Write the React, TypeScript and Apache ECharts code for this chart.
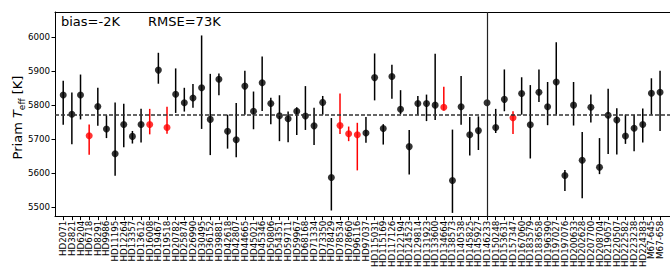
import React, { useEffect, useRef } from "react";
import * as echarts from "echarts";

const categories = [
  "HD2071","HD3821","HD6204","HD6718","HD8291","HD9986","HD11195","HD12264","HD13357","HD13612",
  "HD16008","HD19467","HD19518","HD20782","HD25874","HD26990","HD30495","HD36152","HD39881","HD42618",
  "HD42807","HD44665","HD45021","HD45346","HD50806","HD54351","HD59711","HD59967","HD68168","HD71334",
  "HD73350","HD78429","HD78534","HD78660","HD96116","HD97037","HD115031","HD115169","HD117126","HD122194",
  "HD124523","HD129814","HD131923","HD133600","HD134664","HD138573","HD140538","HD145825","HD145927","HD146233",
  "HD150248","HD153631","HD157347","HD167060","HD183579","HD183658","HD196390","HD197027","HD197076","HD200633",
  "HD202628","HD207700","HD208704","HD219057","HD220507","HD222582","HD223238","HD224383","M67-645","M67-658",
];

const teff = [
  5830,5773,5830,5710,5796,5730,5657,5743,5708,5743,
  5743,5903,5734,5832,5807,5821,5851,5758,5876,5723,
  5698,5856,5782,5866,5805,5769,5760,5782,5768,5739,
  5808,5587,5740,5716,5713,5718,5881,5731,5884,5788,
  5678,5805,5805,5800,5794,5578,5795,5713,5725,5807,
  5734,5817,5763,5834,5742,5838,5795,5868,5593,5800,
  5638,5794,5617,5770,5756,5709,5732,5743,5835,5838,
];

const upper = [
  5872,5837,5890,5743,5851,5770,5808,5804,5724,5789,
  5789,5954,5795,5908,5851,5862,6005,5892,5893,5772,
  5806,5901,5840,5943,5822,5829,5781,5794,5856,5792,
  5827,5762,5834,5737,5748,5765,5952,5744,5919,5844,
  5727,5827,5831,5951,5854,5728,5886,5765,5767,5807,
  5789,5905,5782,5882,5859,5905,5868,5985,5609,5868,
  5721,5831,5703,5848,5791,5772,5772,5790,5879,5901,
];

const lower = [
  5742,5685,5758,5654,5739,5703,5592,5676,5687,5690,
  5714,5863,5716,5777,5781,5792,5730,5653,5829,5672,
  5647,5772,5729,5783,5744,5694,5691,5712,5727,5683,
  5772,5490,5715,5694,5608,5689,5814,5684,5819,5773,
  5596,5772,5753,5756,5784,5483,5742,5652,5668,5807,
  5718,5782,5715,5772,5643,5809,5741,5772,5547,5740,
  5526,5749,5597,5656,5655,5686,5664,5690,5772,5724,
];

const redStars = ["HD6718","HD16008","HD19518","HD78534","HD78660","HD96116","HD134664","HD157347"];

const meanLine = 5772;
const dividerStar = "HD146233";
const yTicks = [5500, 5600, 5700, 5800, 5900, 6000];
const biasText = "bias=-2K";
const rmseText = "RMSE=73K";

const FONT = "DejaVu Sans";
const X_MIN = -0.95;
const X_MAX = 70.15;

export default function App() {
  const ref = useRef<HTMLDivElement>(null);
  useEffect(() => {
    if (!ref.current) return;
    const chart = echarts.init(ref.current, undefined, { renderer: "svg" });
    const idx = categories.map((_, i) => i);
    // padded with the axis ends so the library's min/max-label hiding only drops these blanks
    const xMarks = [X_MIN, ...idx, X_MAX];
    const colorOf = (i: number) => (redStars.includes(categories[i]) ? "#ff0000" : "#000000");
    const option = {
      animation: false,
      grid: { left: 55, top: 12, width: 620, height: 211.3, containLabel: false },
      xAxis: [
        {
          type: "value",
          min: X_MIN,
          max: X_MAX,
          splitLine: { show: false },
          axisLine: { show: true, onZero: false, lineStyle: { color: "#000", width: 1 } },
          axisTick: { show: true, customValues: xMarks, length: 3.5, lineStyle: { color: "#000", width: 1 } },
          axisLabel: {
            show: true,
            customValues: xMarks,
            rotate: 90,
            margin: 4,
            fontSize: 8.7,
            fontFamily: FONT,
            color: "#000",
            showMinLabel: false,
            showMaxLabel: false,
            hideOverlap: false,
            formatter: (v: number) => {
              const k = Math.round(v);
              return Math.abs(v - k) < 1e-6 && categories[k] ? categories[k] : "";
            },
          },
        },
        {
          type: "value",
          position: "top",
          min: X_MIN,
          max: X_MAX,
          splitLine: { show: false },
          axisLine: { show: true, onZero: false, lineStyle: { color: "#000", width: 1 } },
          axisTick: { show: false },
          axisLabel: { show: false },
        },
      ],
      yAxis: {
        type: "value",
        min: 5472,
        max: 6074,
        splitLine: { show: false },
        axisLine: { show: true, onZero: false, lineStyle: { color: "#000", width: 1 } },
        axisTick: { show: true, customValues: yTicks, length: 3.5, lineStyle: { color: "#000", width: 1 } },
        axisLabel: {
          show: true,
          customValues: yTicks,
          margin: 5,
          fontSize: 8.7,
          fontFamily: FONT,
          color: "#000",
          showMinLabel: true,
          showMaxLabel: true,
          formatter: (v: number) => String(Math.round(v)),
        },
      },
      graphic: [
        {
          type: "text",
          x: 61,
          y: 15,
          style: { text: biasText, font: `13px "${FONT}"`, fill: "#000" },
        },
        {
          type: "text",
          x: 148,
          y: 15,
          style: { text: rmseText, font: `13px "${FONT}"`, fill: "#000" },
        },
        {
          type: "text",
          x: 17.5,
          y: 117.5,
          rotation: Math.PI / 2,
          style: {
            text: "{a|Priam }{i|T}{s|eff}{a| [K]}",
            align: "center",
            verticalAlign: "middle",
            fill: "#000",
            rich: {
              a: { fontSize: 13, fontFamily: FONT, lineHeight: 18, verticalAlign: "middle" },
              i: { fontSize: 13, fontFamily: FONT, fontStyle: "italic", lineHeight: 18, verticalAlign: "middle" },
              s: { fontSize: 9, fontFamily: FONT, lineHeight: 10, verticalAlign: "bottom" },
            },
          },
        },
      ],
      series: [
        {
          type: "custom",
          xAxisIndex: 0,
          data: idx.map((i) => [i, lower[i], upper[i]]),
          encode: { x: 0, y: [1, 2] },
          clip: false,
          z: 2,
          renderItem: (params: any, api: any) => {
            const x = api.value(0);
            const p1 = api.coord([x, api.value(1)]);
            const p2 = api.coord([x, api.value(2)]);
            return {
              type: "line",
              shape: { x1: p1[0], y1: p1[1], x2: p2[0], y2: p2[1] },
              style: { stroke: colorOf(params.dataIndex), lineWidth: 1.5 },
            };
          },
          markLine: {
            silent: true,
            symbol: "none",
            label: { show: false },
            data: [
              { yAxis: meanLine, lineStyle: { color: "#333", width: 1.5, type: [4, 2] } },
              { xAxis: categories.indexOf(dividerStar), lineStyle: { color: "#222", width: 1.2, type: "solid" } },
            ],
          },
        },
        {
          type: "scatter",
          xAxisIndex: 0,
          symbolSize: 7,
          z: 3,
          data: idx.map((i) => ({ value: [i, teff[i]], itemStyle: { color: colorOf(i) } })),
        },
      ],
    };
    chart.setOption(option as any);
    return () => chart.dispose();
  }, []);
  return (
    <div
      ref={ref}
      style={{ position: "fixed", left: 0, top: 0, width: 670, height: 270, background: "#fff" }}
    />
  );
}
